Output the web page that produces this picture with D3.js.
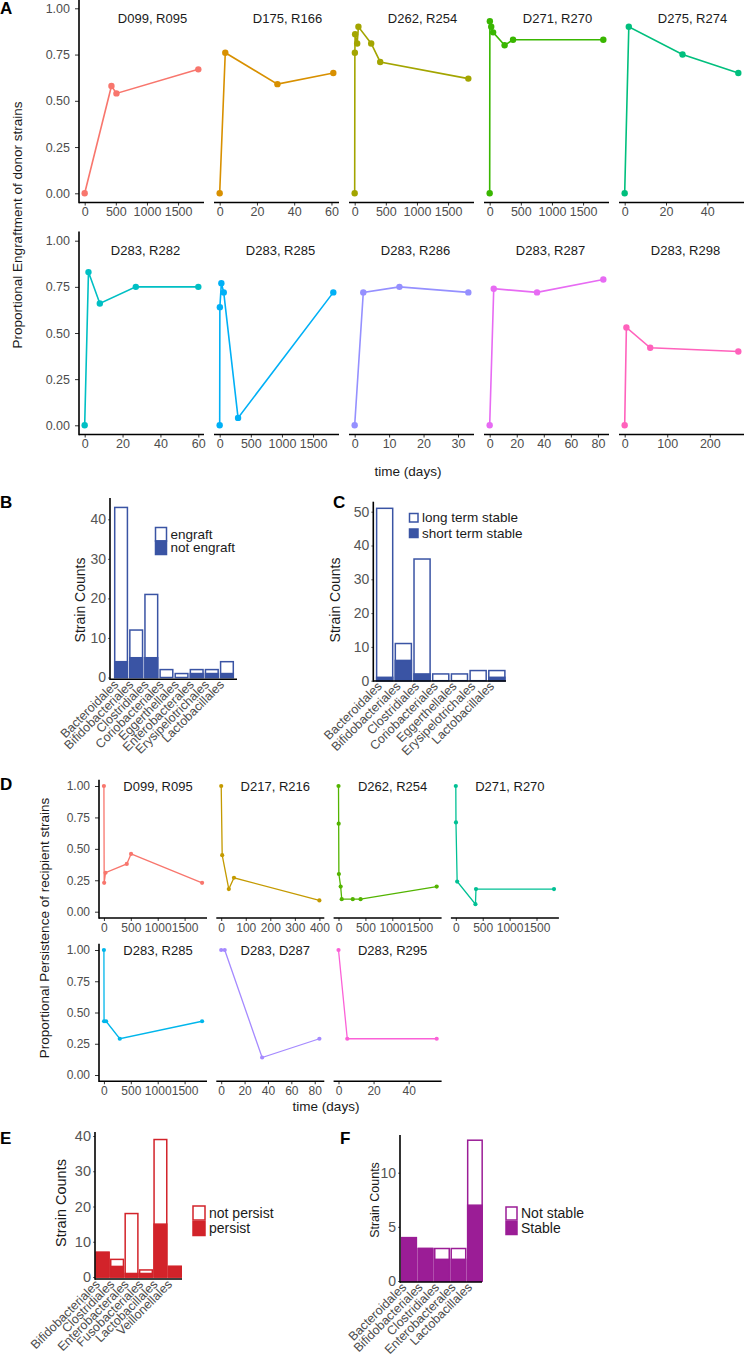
<!DOCTYPE html>
<html><head><meta charset="utf-8">
<script src="https://cdn.jsdelivr.net/npm/d3@7"></script>
<style>body{margin:0;background:#fff} svg{display:block;font-family:"Liberation Sans",Arial,sans-serif}</style>
</head><body>
<svg id="c" width="745" height="1359"></svg>
<script>
// ================= DATA =================
// Panel A: proportional engraftment of donor strains
const engraftPairs = ["D099, R095","D175, R166","D262, R254","D271, R270","D275, R274",
                      "D283, R282","D283, R285","D283, R286","D283, R287","D283, R298"];
const engraftDays = [
  [0, 430, 510, 1825],
  [0, 3, 31, 61],
  [0, 3, 7, 40, 60, 265, 410, 1825],
  [0, 3, 25, 55, 240, 375, 1825],
  [0, 2, 28, 55],
  [0, 2, 8, 27, 60],
  [0, 3, 27, 65, 295, 1825],
  [0, 2.5, 13, 33],
  [0, 3, 35, 84],
  [0, 4, 60, 267]
];
const engraftValues = [
  [0, 0.58, 0.54, 0.67],
  [0, 0.76, 0.59, 0.65],
  [0, 0.76, 0.86, 0.81, 0.90, 0.81, 0.71, 0.62],
  [0, 0.93, 0.90, 0.87, 0.80, 0.83, 0.83],
  [0, 0.90, 0.75, 0.65],
  [0, 0.83, 0.66, 0.75, 0.75],
  [0, 0.64, 0.77, 0.72, 0.04, 0.72],
  [0, 0.72, 0.75, 0.72],
  [0, 0.74, 0.72, 0.79],
  [0, 0.53, 0.42, 0.40]
];
const engraftTicks = [
  [0,500,1000,1500],[0,20,40,60],[0,500,1000,1500],[0,500,1000,1500],[0,20,40],
  [0,20,40,60],[0,500,1000,1500],[0,10,20,30],[0,20,40,60,80],[0,100,200]
];
const propTicks = [0, 0.25, 0.5, 0.75, 1];

// Panel B
const bOrders = ["Bacteroidales","Bifidobacteriales","Clostridiales","Coriobacteriales","Eggerthellales","Enterobacterales","Erysipelotrichales","Lactobacillales"];
const bNotEngraft = [4, 5, 5, 0, 0, 1, 1, 1];
const bEngraft    = [39, 7, 16, 2, 1, 1, 1, 3];
const bTicks = [0, 10, 20, 30, 40];

// Panel C
const cOrders = ["Bacteroidales","Bifidobacteriales","Clostridiales","Coriobacteriales","Eggerthellales","Erysipelotrichales","Lactobacillales"];
const cShortTerm = [1, 6, 2, 0, 0, 0, 1];
const cLongTerm  = [50, 5, 34, 2, 2, 3, 2];
const cTicks = [0, 10, 20, 30, 40, 50];

// Panel D: proportional persistence of recipient strains
const persistPairs = ["D099, R095","D217, R216","D262, R254","D271, R270","D283, R285","D283, D287","D283, R295"];
const persistDays = [
  [0, 5, 30, 425, 505, 1825],
  [0, 4, 31, 52, 400],
  [0, 3, 7, 40, 60, 265, 410, 1825],
  [0, 3, 25, 365, 375, 1825],
  [0, 3, 40, 295, 1825],
  [0, 3, 35, 84],
  [0, 5, 56]
];
const persistValues = [
  [1, 0.23, 0.31, 0.38, 0.46, 0.23],
  [1, 0.45, 0.18, 0.27, 0.09],
  [1, 0.70, 0.30, 0.20, 0.10, 0.10, 0.10, 0.20],
  [1, 0.71, 0.24, 0.06, 0.18, 0.18],
  [1, 0.43, 0.43, 0.29, 0.43],
  [1, 1, 0.14, 0.29],
  [1, 0.29, 0.29]
];
const persistTicks = [
  [0,500,1000,1500],[0,100,200,300,400],[0,500,1000,1500],[0,500,1000,1500],
  [0,500,1000,1500],[0,20,40,60,80],[0,20,40]
];

// Panel E
const eOrders = ["Bifidobacteriales","Clostridiales","Enterobacterales","Fusobacteriales","Lactobacillales","Veillonellales"];
const ePersist    = [7, 3, 1, 1, 15, 3];
const eNotPersist = [0, 2, 17, 1, 24, 0];
const eTicks = [0, 10, 20, 30, 40];

// Panel F
const fOrders = ["Bacteroidales","Bifidobacteriales","Clostridiales","Enterobacterales","Lactobacillales"];
const fStable    = [4, 3, 2, 2, 7];
const fNotStable = [0, 0, 1, 1, 6];
const fTicks = [0, 5, 10];

// ================= STYLE =================
const hue10 = ["#F8766D","#D89000","#A3A500","#39B600","#00BF7D","#00BFC4","#00B0F6","#9590FF","#E76BF3","#FF62BC"];
const hue7  = ["#F8766D","#C49A00","#53B400","#00C094","#00B6EB","#A58AFF","#FB61D7"];
const BLUE = "#3A54A4", RED = "#D2232A", PURPLE = "#9B1D96";
const TICKCOL = "#4D4D4D";

const svg = d3.select("#c");

function panelLetter(t, x, y) {
  svg.append("text").attr("x", x).attr("y", y).attr("font-size", 17).attr("font-weight", "bold").text(t);
}

// ---------- facet line charts ----------
function facets(cfg) {
  const g = svg.append("g");
  cfg.days.forEach((days, i) => {
    const row = Math.floor(i / cfg.perRow), col = i % cfg.perRow;
    const xs = cfg.x0 + col * cfg.step, xe = xs + cfg.width;
    const yr = cfg.rows[row];
    const unit = yr.y0 - yr.y1;
    const y = d3.scaleLinear().domain([0, 1]).range([yr.y0, yr.y1]);
    const ext = d3.extent(days), pad = (ext[1] - ext[0]) * 0.05;
    const x = d3.scaleLinear().domain([ext[0] - pad, ext[1] + pad]).range([xs, xe]);
    const yBot = yr.y0 + 0.05 * unit, yTopL = yr.y1 - 0.05 * unit;
    const pg = g.append("g");
    // x axis
    const xa = pg.append("g").attr("transform", `translate(0,${yBot})`)
      .call(d3.axisBottom(x).tickValues(cfg.ticks[i]).tickFormat(d3.format("d")).tickSize(3).tickPadding(2).tickSizeOuter(0));
    xa.select(".domain").remove();
    xa.selectAll(".tick line").attr("stroke", "#333");
    xa.selectAll("text").attr("font-size", cfg.tickFont).attr("fill", TICKCOL).attr("font-family", null);
    pg.append("line").attr("x1", xs).attr("x2", xe).attr("y1", yBot).attr("y2", yBot)
      .attr("stroke", "#000").attr("stroke-width", 1.6);
    if (col === 0) {
      const ya = pg.append("g").attr("transform", `translate(${xs},0)`)
        .call(d3.axisLeft(y).tickValues(propTicks).tickFormat(d3.format(".2f")).tickSize(4).tickPadding(5).tickSizeOuter(0));
      ya.select(".domain").remove();
      ya.selectAll(".tick line").attr("stroke", "#333");
      ya.selectAll("text").attr("font-size", cfg.tickFont).attr("fill", TICKCOL).attr("font-family", null);
      pg.append("line").attr("x1", xs).attr("x2", xs).attr("y1", yTopL).attr("y2", yBot + 0.8)
        .attr("stroke", "#000").attr("stroke-width", 1.6);
    }
    const pts = days.map((d, k) => [x(d), y(cfg.values[i][k])]);
    pg.append("path").attr("d", d3.line()(pts)).attr("fill", "none")
      .attr("stroke", cfg.colors[i]).attr("stroke-width", cfg.lw);
    pg.selectAll("circle.p").data(pts).join("circle").attr("cx", d => d[0]).attr("cy", d => d[1])
      .attr("r", cfg.r).attr("fill", cfg.colors[i]);
    pg.append("text").attr("x", (xs + xe) / 2 + cfg.titleDx[row]).attr("y", yr.y1 + cfg.titleDy)
      .attr("text-anchor", "middle").attr("font-size", 13).attr("fill", "#1a1a1a").text(cfg.titles[i]);
  });
}

panelLetter("A", 0, 14);
facets({
  days: engraftDays, values: engraftValues, ticks: engraftTicks, titles: engraftPairs, colors: hue10,
  perRow: 5, x0: 79, step: 135, width: 125,
  rows: [{y1: 8.3, y0: 193.3}, {y1: 240.7, y0: 425.3}],
  r: 3.2, lw: 1.6, tickFont: 12.5, titleDx: [11, 4], titleDy: 14.5
});
svg.append("text").attr("transform", "translate(22,225) rotate(-90)").attr("text-anchor", "middle")
  .attr("font-size", 13.5).attr("fill", "#1a1a1a").text("Proportional Engraftment of donor strains");
svg.append("text").attr("x", 408).attr("y", 476).attr("text-anchor", "middle")
  .attr("font-size", 13.5).attr("fill", "#1a1a1a").text("time (days)");

panelLetter("D", 0, 790);
facets({
  days: persistDays, values: persistValues, ticks: persistTicks, titles: persistPairs, colors: hue7,
  perRow: 4, x0: 99, step: 117.3, width: 108,
  rows: [{y1: 786, y0: 911.7}, {y1: 950, y0: 1075}],
  r: 2.1, lw: 1.3, tickFont: 12, titleDx: [5, 5], titleDy: 4.5
});
svg.append("text").attr("transform", "translate(49,928) rotate(-90)").attr("text-anchor", "middle")
  .attr("font-size", 13.5).attr("fill", "#1a1a1a").text("Proportional Persistence of recipient strains");
svg.append("text").attr("x", 326).attr("y", 1111).attr("text-anchor", "middle")
  .attr("font-size", 13.5).attr("fill", "#1a1a1a").text("time (days)");

// ---------- stacked bar charts ----------
function bars(cfg) {
  const g = svg.append("g");
  const x = d3.scaleBand().domain(cfg.cats).range(cfg.xr).paddingInner(cfg.padIn).paddingOuter(cfg.padOut);
  const y = d3.scaleLinear().domain([0, cfg.tickRef]).range([cfg.y0, cfg.yRef]);
  cfg.cats.forEach((c, i) => {
    const lo = cfg.low[i], hi = cfg.high[i], tot = lo + hi;
    const bx = x(c), bw = x.bandwidth();
    if (tot > 0) g.append("rect").attr("x", bx).attr("y", y(tot)).attr("width", bw).attr("height", y(0) - y(tot))
      .attr("fill", "#fff").attr("stroke", cfg.color).attr("stroke-width", 1.5);
    if (lo > 0) g.append("rect").attr("x", bx).attr("y", y(lo)).attr("width", bw).attr("height", y(0) - y(lo))
      .attr("fill", cfg.color).attr("stroke", cfg.color).attr("stroke-width", 1.5);
    g.append("text").attr("transform", `translate(${bx + bw / 2 + cfg.lblDx},${cfg.axisY + cfg.lblDy}) rotate(-45)`)
      .attr("text-anchor", "end").attr("font-size", cfg.lblFont).attr("fill", TICKCOL).text(c);
  });
  const ya = g.append("g").attr("transform", `translate(${cfg.axisX},0)`)
    .call(d3.axisLeft(y).tickValues(cfg.ticks).tickSize(2).tickPadding(2).tickSizeOuter(0));
  ya.select(".domain").remove();
  ya.selectAll(".tick line").attr("stroke", "#666");
  ya.selectAll("text").attr("font-size", cfg.tickFont).attr("fill", "#555").attr("font-family", null);
  g.append("line").attr("x1", cfg.axisX).attr("x2", cfg.axisX).attr("y1", cfg.axisTop).attr("y2", cfg.axisY + 0.8)
    .attr("stroke", "#000").attr("stroke-width", 1.6);
  g.append("line").attr("x1", cfg.axisX).attr("x2", cfg.axisRight).attr("y1", cfg.axisY).attr("y2", cfg.axisY)
    .attr("stroke", "#000").attr("stroke-width", 1.6);
  g.append("text").attr("transform", `translate(${cfg.titleX},${cfg.titleY}) rotate(-90)`).attr("text-anchor", "middle")
    .attr("font-size", cfg.titleFont).attr("fill", "#1a1a1a").text("Strain Counts");
  // legend
  const L = cfg.legend;
  g.append("rect").attr("x", L.x).attr("y", L.y).attr("width", L.w).attr("height", L.h)
    .attr("fill", "#fff").attr("stroke", cfg.color).attr("stroke-width", 1.5);
  g.append("rect").attr("x", L.x).attr("y", L.y + L.h + L.gap).attr("width", L.w).attr("height", L.h)
    .attr("fill", cfg.color).attr("stroke", cfg.color).attr("stroke-width", 1.5);
  g.append("text").attr("x", L.x + L.w + 4).attr("y", L.y + L.h / 2).attr("dy", "0.35em")
    .attr("font-size", L.font).attr("fill", "#1a1a1a").text(L.labels[0]);
  g.append("text").attr("x", L.x + L.w + 4).attr("y", L.y + L.h * 1.5 + L.gap).attr("dy", "0.35em")
    .attr("font-size", L.font).attr("fill", "#1a1a1a").text(L.labels[1]);
}

panelLetter("B", 0, 508);
bars({
  cats: bOrders, low: bNotEngraft, high: bEngraft, color: BLUE, ticks: bTicks,
  xr: [113.5, 234.5], padIn: 0.16, padOut: 0.08,
  tickRef: 40, yRef: 519.3, y0: 677.5, axisX: 110, axisY: 679.3, axisTop: 498, axisRight: 237,
  tickFont: 14, lblFont: 12.5, lblDx: -2, lblDy: 6, titleX: 85, titleY: 600, titleFont: 14,
  legend: {x: 155.5, y: 527.5, w: 11, h: 13.5, gap: 0, font: 13.5, labels: ["engraft", "not engraft"]}
});

panelLetter("C", 333, 508);
bars({
  cats: cOrders, low: cShortTerm, high: cLongTerm, color: BLUE, ticks: cTicks,
  xr: [375.5, 506], padIn: 0.14, padOut: 0.06,
  tickRef: 50, yRef: 511.7, y0: 680.7, axisX: 373.3, axisY: 681, axisTop: 501.7, axisRight: 506,
  tickFont: 14, lblFont: 12.5, lblDx: -2, lblDy: 6, titleX: 340, titleY: 600, titleFont: 14,
  legend: {x: 409.5, y: 513.5, w: 8.5, h: 8.5, gap: 7, font: 13.5, labels: ["long term stable", "short term stable"]}
});

panelLetter("E", 0, 1144);
bars({
  cats: eOrders, low: ePersist, high: eNotPersist, color: RED, ticks: eTicks,
  xr: [96, 181.5], padIn: 0.12, padOut: 0.02,
  tickRef: 40, yRef: 1136, y0: 1277, axisX: 95, axisY: 1279, axisTop: 1132, axisRight: 182,
  tickFont: 14.5, lblFont: 12.5, lblDx: -2, lblDy: 6, titleX: 66, titleY: 1203, titleFont: 14.5,
  legend: {x: 193, y: 1206, w: 12, h: 14, gap: 1.5, font: 14, labels: ["not persist", "persist"]}
});

panelLetter("F", 340, 1144);
bars({
  cats: fOrders, low: fStable, high: fNotStable, color: PURPLE, ticks: fTicks,
  xr: [401.5, 482.5], padIn: 0.12, padOut: 0.02,
  tickRef: 10, yRef: 1172.7, y0: 1281, axisX: 400, axisY: 1282, axisTop: 1135, axisRight: 482,
  tickFont: 14, lblFont: 12.5, lblDx: -2, lblDy: 6, titleX: 379, titleY: 1200, titleFont: 12.5,
  legend: {x: 506, y: 1207, w: 11, h: 13, gap: 1.5, font: 14, labels: ["Not stable", "Stable"]}
});
</script>
</body></html>
